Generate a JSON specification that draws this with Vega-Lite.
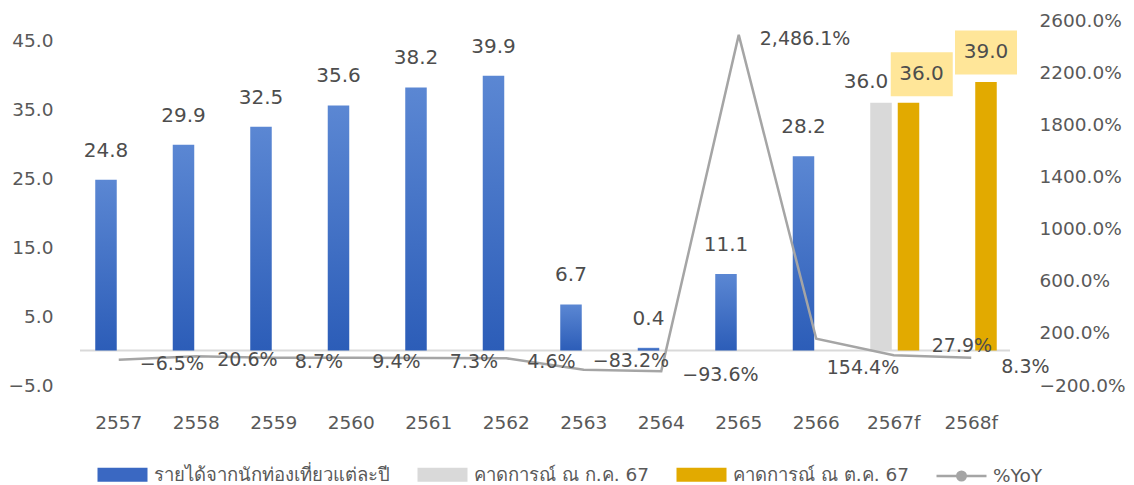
{
  "$schema": "https://vega.github.io/schema/vega-lite/v6.json",
  "width": 930,
  "height": 365,
  "autosize": "none",
  "padding": {"left": 80, "top": 20, "right": 124, "bottom": 100},
  "background": "#ffffff",
  "config": {
    "view": {"stroke": null},
    "font": "DejaVu Sans",
    "axis": {"grid": false, "ticks": false, "domain": false, "labelFont": "DejaVu Sans", "labelFontSize": 18.5, "labelColor": "#595959", "title": null},
    "text": {"font": "DejaVu Sans", "color": "#4D4D4D"},
    "legend": {"labelFont": "DejaVu Sans", "labelFontSize": 18.5, "labelColor": "#595959", "labelLimit": 500}
  },
  "datasets": {
    "bars": [
      {"year": "2557", "series": "รายได้จากนักท่องเที่ยวแต่ละปี", "set": "1", "value": 24.8},
      {"year": "2558", "series": "รายได้จากนักท่องเที่ยวแต่ละปี", "set": "1", "value": 29.9},
      {"year": "2559", "series": "รายได้จากนักท่องเที่ยวแต่ละปี", "set": "1", "value": 32.5},
      {"year": "2560", "series": "รายได้จากนักท่องเที่ยวแต่ละปี", "set": "1", "value": 35.6},
      {"year": "2561", "series": "รายได้จากนักท่องเที่ยวแต่ละปี", "set": "1", "value": 38.2},
      {"year": "2562", "series": "รายได้จากนักท่องเที่ยวแต่ละปี", "set": "1", "value": 39.9},
      {"year": "2563", "series": "รายได้จากนักท่องเที่ยวแต่ละปี", "set": "1", "value": 6.7},
      {"year": "2564", "series": "รายได้จากนักท่องเที่ยวแต่ละปี", "set": "1", "value": 0.4},
      {"year": "2565", "series": "รายได้จากนักท่องเที่ยวแต่ละปี", "set": "1", "value": 11.1},
      {"year": "2566", "series": "รายได้จากนักท่องเที่ยวแต่ละปี", "set": "1", "value": 28.2},
      {"year": "2567f", "series": "คาดการณ์ ณ ก.ค. 67", "set": "1", "value": 36.0},
      {"year": "2567f", "series": "คาดการณ์ ณ ต.ค. 67", "set": "2", "value": 36.0},
      {"year": "2568f", "series": "คาดการณ์ ณ ต.ค. 67", "set": "2", "value": 39.0}
    ],
    "yoy": [
      {"year": "2557", "yoy": -6.5},
      {"year": "2558", "yoy": 20.6},
      {"year": "2559", "yoy": 8.7},
      {"year": "2560", "yoy": 9.4},
      {"year": "2561", "yoy": 7.3},
      {"year": "2562", "yoy": 4.6},
      {"year": "2563", "yoy": -83.2},
      {"year": "2564", "yoy": -93.6},
      {"year": "2565", "yoy": 2486.1},
      {"year": "2566", "yoy": 154.4},
      {"year": "2567f", "yoy": 27.9},
      {"year": "2568f", "yoy": 8.3}
    ]
  },
  "layer": [
    {
      "data": {"values": [{}]},
      "mark": {"type": "rule", "color": "#D9D9D9", "strokeWidth": 2},
      "encoding": {
        "y": {"datum": 0, "type": "quantitative", "scale": {"domain": [-5, 48], "nice": false, "zero": false}, "axis": null}
      }
    },
    {
      "data": {"name": "bars"},
      "encoding": {
        "x": {"field": "year", "type": "nominal", "scale": {"paddingInner": 0, "paddingOuter": 0}, "axis": {"labelAngle": 0, "labelPadding": 28}},
        "y": {"field": "value", "type": "quantitative", "scale": {"domain": [-5, 48], "nice": false, "zero": false}, "axis": {"values": [-5, 5, 15, 25, 35, 45], "format": ".1f", "labelPadding": 27}}
      },
      "layer": [
        {
          "transform": [{"filter": {"field": "series", "equal": "รายได้จากนักท่องเที่ยวแต่ละปี"}}],
          "mark": {"type": "bar", "color": {"gradient": "linear", "x1": 0, "y1": 0, "x2": 0, "y2": 1, "stops": [{"offset": 0, "color": "#5B87D3"}, {"offset": 1, "color": "#2C5DB8"}]}},
          "encoding": {
            "xOffset": {"field": "set", "type": "nominal", "scale": {"domain": ["1", "2"], "paddingInner": 0.218, "paddingOuter": 0.518, "align": 0.535}}
          }
        },
        {
          "transform": [{"filter": "datum.series !== 'รายได้จากนักท่องเที่ยวแต่ละปี'"}],
          "mark": {"type": "bar"},
          "encoding": {
            "xOffset": {"field": "set", "type": "nominal", "scale": {"domain": ["1", "2"], "paddingInner": 0.218, "paddingOuter": 0.518, "align": 0.535}},
            "color": {
              "field": "series",
              "type": "nominal",
              "scale": {
                "domain": ["รายได้จากนักท่องเที่ยวแต่ละปี", "คาดการณ์ ณ ก.ค. 67", "คาดการณ์ ณ ต.ค. 67", "%YoY"],
                "range": ["#3A68C2", "#D9D9D9", "#E2AA00", "#A5A5A5"]
              },
              "legend": {
                "orient": "none",
                "legendX": 16,
                "legendY": 428,
                "direction": "horizontal",
                "title": null,
                "symbolSize": 2500,
                "labelOffset": 5,
                "columnPadding": 22,
                "encode": {
                  "symbols": {
                    "update": {
                      "shape": {"signal": "datum.value === '%YoY' ? 'M-1,0L1,0M-0.17,0A0.17,0.17 0 1,1 0.17,0A0.17,0.17 0 1,1 -0.17,0Z' : 'M-1,-0.28L1,-0.28L1,0.28L-1,0.28Z'"},
                      "stroke": {"signal": "datum.value === '%YoY' ? '#A5A5A5' : 'transparent'"},
                      "strokeWidth": {"value": 2.5},
                      "opacity": {"value": 1}
                    }
                  }
                }
              }
            }
          }
        },
        {
          "transform": [{"filter": "datum.year === '2567f' && datum.set === '2'"}],
          "mark": {"type": "point", "shape": "M-1,-0.71L1,-0.71L1,0.71L-1,0.71Z", "size": 3844, "filled": true, "color": "#FFE699", "opacity": 1, "xOffset": 28, "yOffset": -28.5}
        },
        {
          "transform": [{"filter": "datum.year === '2568f' && datum.set === '2'"}],
          "mark": {"type": "point", "shape": "M-1,-0.71L1,-0.71L1,0.71L-1,0.71Z", "size": 3844, "filled": true, "color": "#FFE699", "opacity": 1, "xOffset": 14.75, "yOffset": -29.5}
        },
        {
          "transform": [{"filter": {"field": "series", "equal": "รายได้จากนักท่องเที่ยวแต่ละปี"}}],
          "mark": {"type": "text", "fontSize": 20, "baseline": "middle", "dy": -29},
          "encoding": {
            "xOffset": {"field": "set", "type": "nominal", "scale": {"domain": ["1", "2"], "paddingInner": 0.218, "paddingOuter": 0.518, "align": 0.535}},
            "text": {"field": "value", "type": "quantitative", "format": ".1f"}
          }
        },
        {
          "transform": [{"filter": {"field": "series", "equal": "คาดการณ์ ณ ก.ค. 67"}}],
          "mark": {"type": "text", "fontSize": 20, "baseline": "middle", "dy": -21, "dx": -15},
          "encoding": {
            "xOffset": {"field": "set", "type": "nominal", "scale": {"domain": ["1", "2"], "paddingInner": 0.218, "paddingOuter": 0.518, "align": 0.535}},
            "text": {"field": "value", "type": "quantitative", "format": ".1f"}
          }
        },
        {
          "transform": [{"filter": "datum.year === '2567f' && datum.set === '2'"}],
          "mark": {"type": "text", "fontSize": 20, "baseline": "middle", "dy": -28.5, "dx": 13},
          "encoding": {
            "xOffset": {"field": "set", "type": "nominal", "scale": {"domain": ["1", "2"], "paddingInner": 0.218, "paddingOuter": 0.518, "align": 0.535}},
            "text": {"field": "value", "type": "quantitative", "format": ".1f"}
          }
        },
        {
          "transform": [{"filter": "datum.year === '2568f' && datum.set === '2'"}],
          "mark": {"type": "text", "fontSize": 20, "baseline": "middle", "dy": -29.5},
          "encoding": {
            "xOffset": {"field": "set", "type": "nominal", "scale": {"domain": ["1", "2"], "paddingInner": 0.218, "paddingOuter": 0.518, "align": 0.535}},
            "text": {"field": "value", "type": "quantitative", "format": ".1f"}
          }
        }
      ]
    },
    {
      "data": {"name": "yoy"},
      "transform": [{"calculate": "format(datum.yoy, ',.1f') + '%'", "as": "lbl"}],
      "encoding": {
        "x": {"field": "year", "type": "nominal", "scale": {"paddingInner": 0, "paddingOuter": 0}, "axis": {"labelAngle": 0, "labelPadding": 28}},
        "y": {"field": "yoy", "type": "quantitative", "scale": {"domain": [-200, 2600], "nice": false, "zero": false}, "axis": {"orient": "right", "values": [-200, 200, 600, 1000, 1400, 1800, 2200, 2600], "labelExpr": "format(datum.value, '.1f') + '%'", "labelPadding": 29}}
      },
      "layer": [
        {"mark": {"type": "line", "color": "#A5A5A5", "strokeWidth": 2.5}},
        {
          "transform": [{"filter": {"field": "year", "oneOf": ["2557", "2558", "2559", "2560", "2561", "2562", "2564", "2565"]}}],
          "mark": {"type": "text", "fontSize": 19, "align": "left", "baseline": "middle", "dx": 21, "dy": 4},
          "encoding": {"text": {"field": "lbl", "type": "nominal"}}
        },
        {
          "transform": [{"filter": {"field": "year", "equal": "2563"}}],
          "mark": {"type": "text", "fontSize": 19, "align": "left", "baseline": "middle", "dx": 9, "dy": -9},
          "encoding": {"text": {"field": "lbl", "type": "nominal"}}
        },
        {
          "transform": [{"filter": {"field": "year", "equal": "2566"}}],
          "mark": {"type": "text", "fontSize": 19, "align": "left", "baseline": "middle", "dx": 10.5, "dy": 29.5},
          "encoding": {"text": {"field": "lbl", "type": "nominal"}}
        },
        {
          "transform": [{"filter": {"field": "year", "equal": "2567f"}}],
          "mark": {"type": "text", "fontSize": 19, "align": "left", "baseline": "middle", "dx": 38, "dy": -9},
          "encoding": {"text": {"field": "lbl", "type": "nominal"}}
        },
        {
          "transform": [{"filter": {"field": "year", "equal": "2568f"}}],
          "mark": {"type": "text", "fontSize": 19, "align": "left", "baseline": "middle", "dx": 30, "dy": 9},
          "encoding": {"text": {"field": "lbl", "type": "nominal"}}
        }
      ]
    }
  ],
  "resolve": {"scale": {"y": "independent"}}
}
